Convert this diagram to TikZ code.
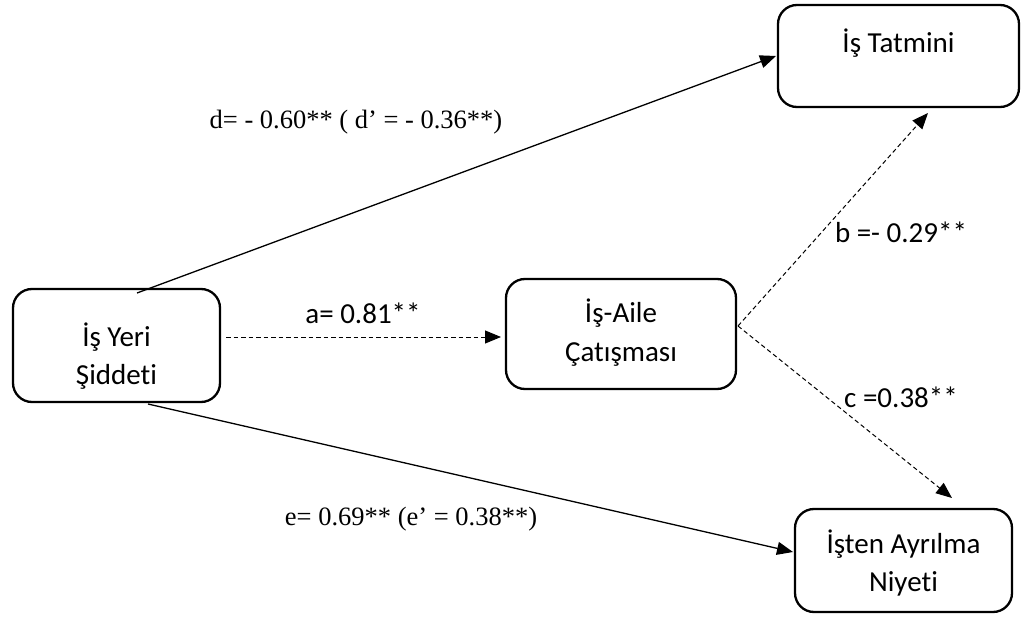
\documentclass[tikz,border=0pt]{standalone}
\usepackage{fontspec}
\setmainfont{Liberation Serif}
\newfontfamily\calfont[Ligatures={NoCommon}]{Carlito}
\usetikzlibrary{arrows.meta}
\begin{document}
\begin{tikzpicture}[x=1bp,y=-1bp,
  box/.style={draw, line width=2.3bp, rounded corners=19bp, inner sep=0pt},
  boxtext/.style={font=\calfont\fontsize{29bp}{39bp}\selectfont, inner sep=0pt, anchor=base},
  lbl/.style={font=\calfont\fontsize{29bp}{34bp}\selectfont, inner sep=0pt, anchor=base},
  tlbl/.style={font=\fontsize{26.5bp}{30bp}\selectfont, inner sep=0pt, anchor=base},
  tip/.style={-{Triangle[length=16bp,width=13bp]}},
  solidarrow/.style={tip, line width=1.3bp},
  dasharrow/.style={tip, line width=1bp, dash pattern=on 4.5bp off 3bp}]
\useasboundingbox (0,0) rectangle (1030,617);
% boxes
\node[box, minimum width=207bp, minimum height=113bp] (isy) at (116.5,345.5) {};
\node[box, minimum width=230bp, minimum height=110bp] (iac) at (621,334) {};
\node[box, minimum width=241bp, minimum height=102bp] (ist) at (898.5,56) {};
\node[box, minimum width=217bp, minimum height=103bp] (iay) at (903.5,560.5) {};
% box texts
\node[boxtext] (isy1) at (116.5,346) {İş Yeri};
\node[boxtext] (isy2) at (116.5,384) {Şiddeti};
\node[boxtext] (iac1) at (621,322) {İş-Aile};
\node[boxtext] (iac2) at (621,361) {Çatışması};
\node[boxtext] (ist1) at (898.5,53) {İş Tatmini};
\node[boxtext] (iay1) at (903.5,553) {İşten Ayrılma};
\node[boxtext] (iay2) at (903.5,591) {Niyeti};
% connector end points
\coordinate (dS) at (137,293);
\coordinate (dE) at (776,56);
\coordinate (eS) at (148,404);
\coordinate (eE) at (793,552);
\coordinate (aS) at (226,337);
\coordinate (aE) at (501,337);
\coordinate (bcS) at (738,326);
\coordinate (bE) at (928,113);
\coordinate (cE) at (952,498);
% connectors
\draw[solidarrow] (dS) -- (dE);
\draw[solidarrow] (eS) -- (eE);
\draw[dasharrow] (aS) -- (aE);
\draw[dasharrow] (bcS) -- (bE);
\draw[dasharrow] (bcS) -- (cE);
% labels
\node[tlbl] (dl) at (356,129) {d= - 0.60** ( d’ = - 0.36**)};
\node[tlbl] (el) at (411,525) {e= 0.69** (e’ = 0.38**)};
\node[lbl] (al) at (363,323) {a= 0.81**};
\node[lbl] (bl) at (901,243) {b =- 0.29**};
\node[lbl] (cl) at (901,407) {c =0.38**};
\end{tikzpicture}
\end{document}
